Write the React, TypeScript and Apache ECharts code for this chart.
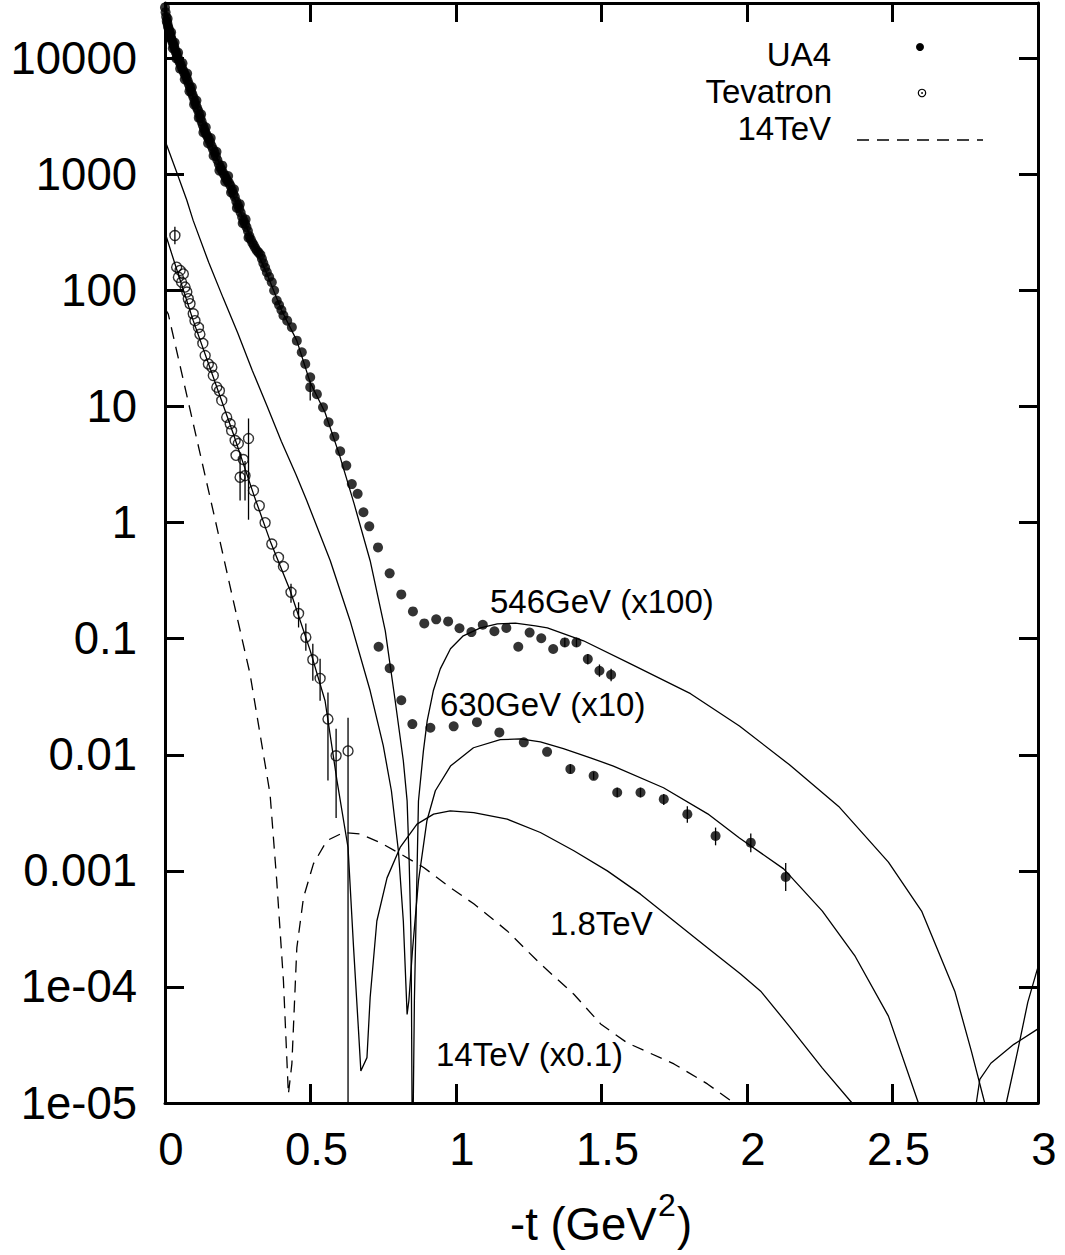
import React, { useEffect, useRef } from "react";
import * as echarts from "echarts";

const FONT = '"Liberation Sans", Arial, Helvetica, sans-serif';

// ---------- tick labels ----------
const xTicks = [0, 0.5, 1, 1.5, 2, 2.5, 3];
const yTickExponents = [-5, -4, -3, -2, -1, 0, 1, 2, 3, 4];
const yTickLabels = ["1e-05", "1e-04", "0.001", "0.01", "0.1", "1", "10", "100", "1000", "10000"];

// ---------- UA4 data (546 GeV x100 and 630 GeV x10), -t in GeV^2 ----------
const ua4T = [
  0.000, 0.002, 0.004, 0.006, 0.008, 0.010, 0.012, 0.014, 0.016, 0.018, 0.020, 0.022, 0.025, 0.028, 0.031, 0.034,
  0.037, 0.040, 0.043, 0.046, 0.050, 0.054, 0.058, 0.062, 0.066, 0.070, 0.074, 0.078, 0.082, 0.086, 0.090, 0.094,
  0.098, 0.102, 0.106, 0.110, 0.114, 0.118, 0.122, 0.126, 0.130, 0.134, 0.138, 0.142, 0.146, 0.150, 0.155, 0.160,
  0.165, 0.170, 0.175, 0.180, 0.185, 0.190, 0.195, 0.200, 0.205, 0.210, 0.215, 0.220, 0.225, 0.230, 0.235, 0.240,
  0.245, 0.250, 0.255, 0.260, 0.265, 0.270, 0.275, 0.280, 0.285, 0.290, 0.295, 0.300, 0.305, 0.310, 0.316, 0.322,
  0.328, 0.333, 0.338, 0.344, 0.350, 0.358, 0.367, 0.375, 0.384, 0.392, 0.400, 0.407, 0.420, 0.436, 0.453, 0.470,
  0.482, 0.499, 0.499, 0.522, 0.543, 0.562, 0.582, 0.602, 0.623, 0.642, 0.662,
  0.682, 0.702, 0.732, 0.772, 0.812, 0.852, 0.891, 0.932, 0.973, 1.012, 1.053, 1.092, 1.132, 1.173, 1.214, 1.253,
  1.293, 1.334, 1.374, 1.414, 1.453, 1.493, 1.533,
  0.734, 0.772, 0.812, 0.850, 0.912, 0.992, 1.072, 1.149, 1.233, 1.313, 1.393, 1.473, 1.554, 1.634, 1.714, 1.795,
  1.892, 2.013, 2.133,
  // overlapping low-|t| measurements (scatter around the main band)
  0.009, 0.015, 0.021, 0.027, 0.033, 0.039, 0.045, 0.052, 0.060, 0.068, 0.076, 0.084, 0.092, 0.100, 0.108, 0.116,
  0.124, 0.132, 0.140, 0.148, 0.157, 0.167, 0.177, 0.187, 0.197, 0.207, 0.217, 0.227, 0.237, 0.247, 0.257, 0.267,
  0.277, 0.287,
];
const ua4V = [
  27500, 25000, 22800, 21000, 20200, 19000, 18300, 17500, 16600, 16000, 15300, 14700, 14000, 13300, 12700, 12000,
  11400, 10900, 10300, 9800, 9300, 8800, 8300, 7900, 7500, 7150, 6800, 6400, 6000, 5600, 5200, 4900,
  4600, 4250, 4000, 3750, 3550, 3300, 3050, 2850, 2650, 2480, 2330, 2220, 2120, 2020, 1900, 1760,
  1650, 1550, 1440, 1330, 1230, 1150, 1090, 1030, 980, 925, 880, 845, 800, 735, 680, 640,
  585, 545, 510, 470, 430, 400, 375, 352, 325, 295, 275, 258, 246, 232, 220, 212,
  203, 188, 172, 158, 144, 131, 118, 100, 82, 75, 68, 61, 55, 48.3, 37, 29.4,
  23.3, 17.9, 14.7, 12.8, 9.86, 7.33, 5.51, 4.12, 3.10, 2.15, 1.77,
  1.23, 0.929, 0.612, 0.366, 0.241, 0.172, 0.1355, 0.147, 0.141, 0.123, 0.114, 0.132, 0.116, 0.124, 0.0853, 0.113,
  0.101, 0.0815, 0.0929, 0.0929, 0.0668, 0.0530, 0.0489,
  0.0853, 0.0557, 0.0295, 0.0184, 0.0171, 0.0176, 0.0191, 0.0156, 0.0128, 0.0106, 0.00753, 0.00659, 0.00473, 0.00473, 0.00415, 0.00308,
  0.00200, 0.00175, 0.000887,
  22000, 15300, 16800, 12200, 13700, 10000, 11200, 8150, 9100, 6600, 7400, 5200, 5650, 4000, 4330, 3080,
  3300, 2300, 2550, 1860, 2060, 1450, 1570, 1080, 1190, 865, 970, 700, 745, 515, 555, 380,
  410, 285,
];
const ua4ErrT = [0.499, 1.374, 1.414, 1.453, 1.493, 1.533, 1.393, 1.473, 1.554, 1.634, 1.714, 1.795, 1.892, 2.013, 2.133];
const ua4ErrLo = [11.3, 0.085, 0.085, 0.060, 0.047, 0.043, 0.0069, 0.0061, 0.0043, 0.0043, 0.0037, 0.0026, 0.00166, 0.00145, 0.00067];
const ua4ErrHi = [16.7, 0.102, 0.102, 0.074, 0.060, 0.055, 0.0083, 0.0071, 0.0052, 0.0052, 0.0046, 0.0036, 0.00236, 0.0021, 0.00117];

// ---------- Tevatron data (1.8 TeV) ----------
const tevT = [
  0.034, 0.040, 0.052, 0.063, 0.046, 0.057, 0.069, 0.075, 0.080, 0.086, 0.097, 0.103, 0.115, 0.120, 0.130, 0.138,
  0.149, 0.161, 0.166, 0.178, 0.187, 0.195, 0.212, 0.224, 0.229, 0.241, 0.252, 0.244, 0.269, 0.258, 0.275, 0.287,
  0.304, 0.324, 0.344, 0.367, 0.390, 0.407, 0.433, 0.459, 0.484, 0.508, 0.533, 0.560, 0.588, 0.629,
];
const tevV = [
  298, 159, 149, 139, 130, 118, 107, 97, 85, 77, 63, 55, 48, 42, 35, 27.5,
  23.3, 21.8, 18.5, 14.7, 13.7, 11.3, 8.1, 7.1, 6.2, 5.1, 4.8, 3.8, 3.5, 2.46, 2.54, 5.3,
  1.89, 1.40, 1.0, 0.655, 0.502, 0.418, 0.251, 0.165, 0.103, 0.066, 0.0455, 0.0203, 0.0098, 0.0108,
];
const tevErrT = [0.034, 0.258, 0.275, 0.287, 0.433, 0.459, 0.484, 0.508, 0.533, 0.560, 0.588, 0.629];
const tevErrLo = [250, 1.55, 1.55, 1.06, 0.204, 0.125, 0.0788, 0.0435, 0.0292, 0.0060, 0.00286, 0];
const tevErrHi = [355, 3.9, 3.4, 7.9, 0.298, 0.206, 0.135, 0.0906, 0.0673, 0.0344, 0.0168, 0.0209];

// ---------- model curves ----------
const c546T = [
  0, 0.05, 0.10, 0.15, 0.20, 0.25, 0.30, 0.35, 0.40, 0.453, 0.499, 0.55, 0.60, 0.65, 0.705, 0.757, 0.791, 0.819,
  0.832, 0.839, 0.845, 0.847, 0.849, 0.851, 0.853, 0.857, 0.864, 0.871, 0.888, 0.901, 0.922, 0.946, 0.981, 1.025,
  1.084, 1.142, 1.204, 1.273, 1.314, 1.438, 1.600, 1.806, 1.974, 2.145, 2.315, 2.486, 2.600, 2.714, 2.771, 2.817,
  2.84, 2.875, 2.891, 2.930, 2.965, 3.0,
];
const c546V = [
  28000, 9500, 4400, 2050, 1030, 540, 265, 140, 68, 37, 16.1, 8.9, 3.8, 1.45, 0.47, 0.117, 0.0292, 0.00888,
  0.00401, 0.00122, 3.0e-4, 7.6e-5, 9e-6, 1e-7, 9e-6, 7.6e-5, 5.5e-4, 0.0040, 0.0108, 0.0196, 0.0356, 0.055, 0.082, 0.106,
  0.124, 0.1345, 0.136, 0.129, 0.124, 0.096, 0.0608, 0.0336, 0.0177, 0.00824, 0.00359, 0.00119, 4.5e-4, 9.2e-5, 2.8e-5, 1e-5,
  1e-7, 1e-7, 1e-5, 2.8e-5, 7.4e-5, 1.49e-4,
];
const c630T = [
  0, 0.038, 0.075, 0.097, 0.15, 0.20, 0.25, 0.30, 0.35, 0.40, 0.45, 0.487, 0.568, 0.636, 0.705, 0.750, 0.778, 0.802,
  0.819, 0.832, 0.838, 0.850, 0.871, 0.900, 0.929, 0.981, 1.060, 1.152, 1.221, 1.290, 1.369, 1.462, 1.541, 1.713,
  1.865, 1.974, 2.126, 2.259, 2.372, 2.486, 2.589, 2.62, 2.77, 2.788, 2.800, 2.838, 2.917, 3.0,
];
const c630V = [
  1960, 1080, 600, 400, 175, 86, 43, 20.5, 10.2, 5.0, 2.6, 1.55, 0.47, 0.143, 0.0356, 0.012, 0.0049, 0.00149,
  3.7e-4, 5.8e-5, 7.6e-5, 2.0e-4, 8.2e-4, 0.0027, 0.0049, 0.0080, 0.0115, 0.0135, 0.0137, 0.0129, 0.0113, 0.0094, 0.0080, 0.0052,
  0.0031, 0.00192, 0.00104, 4.5e-4, 1.83e-4, 5.6e-5, 1e-5, 1e-7, 1e-7, 1e-5, 1.6e-5, 2.2e-5, 3.2e-5, 4.35e-5,
];
const c18T = [
  0, 0.034, 0.097, 0.166, 0.235, 0.304, 0.361, 0.430, 0.499, 0.550, 0.591, 0.629, 0.648, 0.665, 0.673, 0.694, 0.705,
  0.728, 0.763, 0.808, 0.866, 0.923, 0.980, 1.061, 1.176, 1.290, 1.405, 1.520, 1.634, 1.749, 1.864, 1.978, 2.047,
  2.145, 2.259, 2.361, 2.40,
];
const c18V = [
  316, 170, 55, 17.9, 5.8, 1.77, 0.70, 0.26, 0.079, 0.0292, 0.0060, 0.00159, 2.18e-4, 4.2e-5, 1.89e-5, 2.46e-5, 8.1e-5,
  3.7e-4, 8.7e-4, 0.00159, 0.00253, 0.00308, 0.00329, 0.00318, 0.00279, 0.00214, 0.00149, 0.0010, 6.3e-4, 3.7e-4, 2.18e-4, 1.29e-4, 9.2e-5,
  4.6e-5, 2.0e-5, 1e-5, 4e-6,
];
const c14T = [
  0, 0.011, 0.172, 0.23, 0.292, 0.361, 0.384, 0.407, 0.424, 0.436, 0.453, 0.476, 0.510, 0.556, 0.613, 0.671, 0.740,
  0.820, 0.889, 0.980, 1.061, 1.176, 1.290, 1.405, 1.497, 1.588, 1.749, 1.864, 1.955, 1.995,
];
const c14V = [
  70, 63, 1.07, 0.24, 0.050, 0.0046, 8.2e-4, 1.13e-4, 1.19e-5, 2.17e-5, 2.17e-4, 5.9e-4, 0.00115, 0.00182, 0.00214, 0.00208, 0.00175,
  0.00135, 0.00107, 7.2e-4, 5.2e-4, 3.04e-4, 1.58e-4, 8.65e-5, 4.8e-5, 3.3e-5, 2.17e-5, 1.46e-5, 1.0e-5, 7.8e-6,
];

const zip = (a: number[], b: number[]) => a.map((v, i) => [v, b[i]]);
const zip3 = (a: number[], b: number[], c: number[]) => a.map((v, i) => [v, b[i], c[i]]);

function yLabel(val: number): string {
  const e = Math.log10(val);
  const r = Math.round(e);
  if (Math.abs(e - r) > 1e-6) return "";
  const i = yTickExponents.indexOf(r);
  return i >= 0 ? yTickLabels[i] : "";
}

function errRender(params: any, api: any) {
  const t = api.value(0);
  const lo = api.value(1);
  const hi = api.value(2);
  const cs = params.coordSys;
  const top = cs.y;
  const bot = cs.y + cs.height;
  const pHi = api.coord([t, hi]);
  let yLo: number;
  if (!(lo > 0)) {
    yLo = bot;
  } else {
    yLo = api.coord([t, lo])[1];
  }
  const y1 = Math.max(top, Math.min(bot, pHi[1]));
  const y2 = Math.max(top, Math.min(bot, yLo));
  return {
    type: "line",
    shape: { x1: pHi[0], y1, x2: pHi[0], y2 },
    style: { stroke: "#000", lineWidth: 1.3 },
  };
}

const txt = (text: string, x: number, y: number, size: number, align: string) => ({
  type: "text",
  x,
  y,
  silent: true,
  style: {
    text,
    fontSize: size,
    fontFamily: FONT,
    fill: "#000",
    align,
    verticalAlign: "middle",
    textAlign: align,
    textVerticalAlign: "middle",
  },
});

export default function App() {
  const ref = useRef<HTMLDivElement>(null);
  useEffect(() => {
    if (!ref.current) return;
    const chart = echarts.init(ref.current, null, { renderer: "svg", width: 1065, height: 1255 });

    const axisLineStyle = { color: "#000", width: 3 };
    const xCommon = {
      type: "value",
      min: xTicks[0],
      max: xTicks[xTicks.length - 1],
      interval: 0.5,
      splitLine: { show: false },
      axisLine: { show: true, onZero: false, lineStyle: axisLineStyle },
      axisTick: { show: true, inside: true, length: 19, lineStyle: { color: "#000", width: 3 } },
    };
    const yCommon = {
      type: "log",
      logBase: 10,
      min: 1e-5,
      max: 3e4,
      splitNumber: 9,
      splitLine: { show: false },
      minorTick: { show: false },
      axisLine: { show: true, onZero: false, lineStyle: axisLineStyle },
      axisTick: { show: true, inside: true, length: 19, lineStyle: { color: "#000", width: 3 } },
    };

    const lineSeries = (t: number[], v: number[], dashed: boolean) => ({
      type: "line",
      data: zip(t, v),
      showSymbol: false,
      symbol: "none",
      silent: true,
      clip: true,
      z: 2,
      lineStyle: { color: "#000", width: 1.3, type: dashed ? [12, 8] : "solid" },
    });

    chart.setOption({
      animation: false,
      backgroundColor: "#fff",
      grid: { left: 165, right: 27, top: 3, bottom: 152, containLabel: false },
      xAxis: [
        {
          ...xCommon,
          position: "bottom",
          axisLabel: {
            show: true,
            fontSize: 45.5,
            fontFamily: FONT,
            color: "#000",
            margin: 23,
            padding: [0, 0, 0, 12],
            showMinLabel: true,
            showMaxLabel: true,
          },
        },
        { ...xCommon, position: "top", axisLabel: { show: false } },
      ],
      yAxis: [
        {
          ...yCommon,
          position: "left",
          axisLabel: {
            show: true,
            fontSize: 45.5,
            fontFamily: FONT,
            color: "#000",
            margin: 28,
            formatter: yLabel,
          },
        },
        { ...yCommon, position: "right", axisLabel: { show: false } },
      ],
      series: [
        lineSeries(c546T, c546V, false),
        lineSeries(c630T, c630V, false),
        lineSeries(c18T, c18V, false),
        lineSeries(c14T, c14V, true),
        {
          type: "custom",
          renderItem: errRender,
          data: zip3(ua4ErrT, ua4ErrLo, ua4ErrHi),
          encode: { x: 0, y: [1, 2] },
          silent: true,
          z: 3,
        },
        {
          type: "custom",
          renderItem: errRender,
          data: zip3(tevErrT, tevErrLo, tevErrHi),
          encode: { x: 0, y: [1, 2] },
          silent: true,
          z: 3,
        },
        {
          type: "scatter",
          data: zip(ua4T, ua4V),
          symbol: "circle",
          symbolSize: 10,
          itemStyle: { color: "#000" },
          clip: false,
          silent: true,
          z: 4,
        },
        {
          type: "scatter",
          data: zip(tevT, tevV),
          symbol: "circle",
          symbolSize: 10,
          itemStyle: { color: "rgba(0,0,0,0)", borderColor: "#000", borderWidth: 1.4 },
          clip: false,
          silent: true,
          z: 4,
        },
      ],
      graphic: [
        // legend
        txt("UA4", 831, 54, 33, "right"),
        txt("Tevatron", 832, 91, 33, "right"),
        txt("14TeV", 831, 128, 33, "right"),
        { type: "circle", shape: { cx: 920, cy: 47, r: 4 }, style: { fill: "#000" }, silent: true },
        { type: "circle", shape: { cx: 922, cy: 93, r: 3.7 }, style: { fill: "none", stroke: "#000", lineWidth: 1.2 }, silent: true },
        { type: "circle", shape: { cx: 922, cy: 93, r: 0.9 }, style: { fill: "#000" }, silent: true },
        {
          type: "line",
          shape: { x1: 857, y1: 140, x2: 983, y2: 140 },
          style: { stroke: "#000", lineWidth: 1.3, lineDash: [12, 8] },
          silent: true,
        },
        // curve annotations
        txt("546GeV (x100)", 490, 601.5, 33, "left"),
        txt("630GeV (x10)", 440, 704, 33, "left"),
        txt("1.8TeV", 550, 923, 33, "left"),
        txt("14TeV (x0.1)", 436, 1054, 33, "left"),
        // x axis title
        txt("-t (GeV", 510, 1224, 45.5, "left"),
        txt("2", 658, 1205, 32, "left"),
        txt(")", 677, 1224, 45.5, "left"),
      ],
    });
    return () => {
      chart.dispose();
    };
  }, []);
  return (
    <div
      ref={ref}
      style={{ position: "absolute", left: 0, top: 0, width: 1065, height: 1255, background: "#fff" }}
    />
  );
}
